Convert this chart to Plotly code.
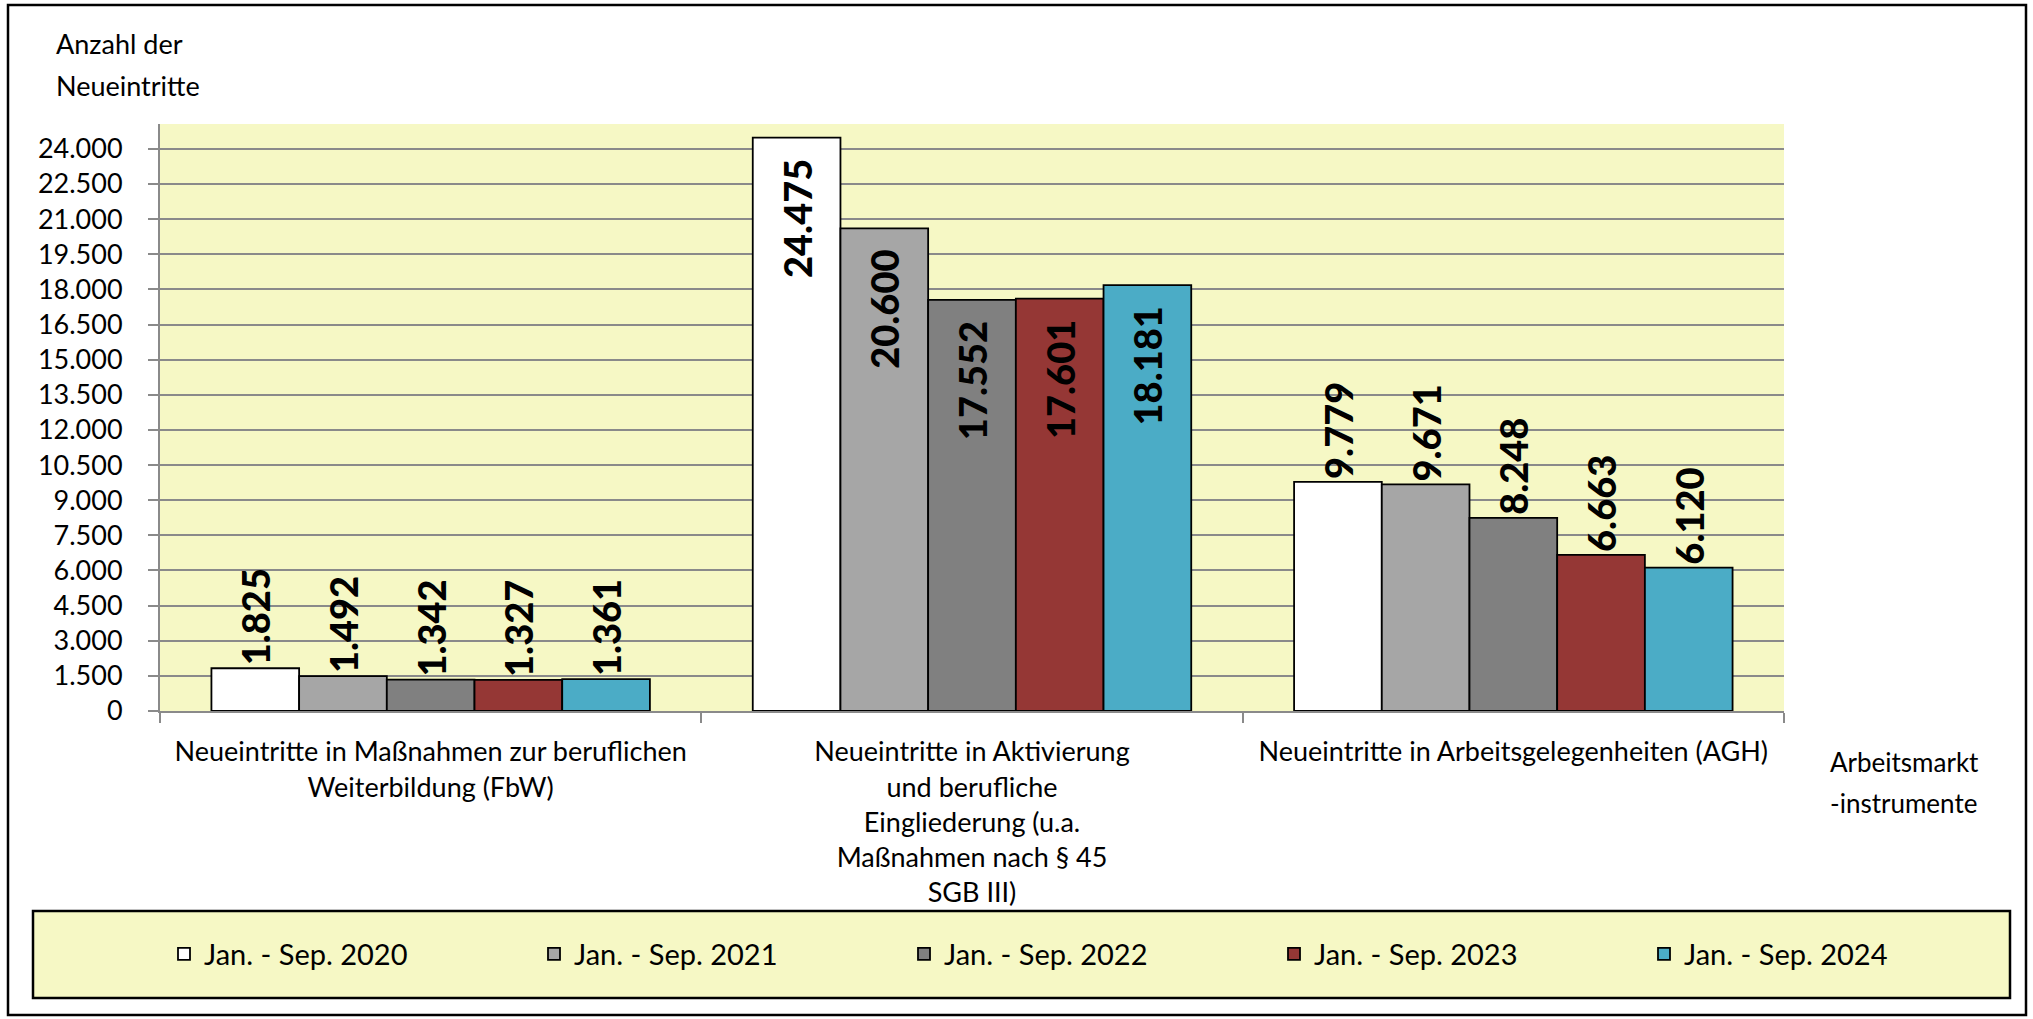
import plotly.graph_objects as go

# ---------------- data ----------------
categories = [
    "Neueintritte in Maßnahmen zur beruflichen<br>Weiterbildung (FbW)",
    "Neueintritte in Aktivierung<br>und berufliche<br>Eingliederung (u.a.<br>Maßnahmen nach § 45<br>SGB III)",
    "Neueintritte in Arbeitsgelegenheiten (AGH)",
]
series_names = ["Jan. - Sep. 2020", "Jan. - Sep. 2021", "Jan. - Sep. 2022",
                "Jan. - Sep. 2023", "Jan. - Sep. 2024"]
values_2020 = [1825, 24475, 9779]
values_2021 = [1492, 20600, 9671]
values_2022 = [1342, 17552, 8248]
values_2023 = [1327, 17601, 6663]
values_2024 = [1361, 18181, 6120]
label_positions = ["outside", "inside", "outside"]

y_title_lines = ["Anzahl der", "Neueintritte"]
x_title_lines = ["Arbeitsmarkt", "-instrumente"]

# ---------------- styles ----------------
series_values = [values_2020, values_2021, values_2022, values_2023, values_2024]
colors = ["#FFFFFF", "#A6A6A6", "#808080", "#953735", "#4BACC6"]
FONT = "Lato"
PLOT_BG = "#F6F8C5"
GRID = "#8A8A8A"
NBSP = "\u00a0"
label_templates = ["%{y:,}", "%{y:,}" + NBSP * 2, "%{y:,}"]

W_FIG, H_FIG = 2033, 1019
L, R, T, B = 160, 1784, 124, 711
PW, PH = R - L, B - T


def px(x):
    return (x - L) / PW


def py(y):
    return (B - y) / PH


fig = go.Figure()
for name, vals, col in zip(series_names, series_values, colors):
    fig.add_trace(go.Bar(
        x=categories, y=vals, name=name,
        marker=dict(color=col, line=dict(color="#000000", width=1.8)),
        texttemplate=label_templates,
        textposition=label_positions,
        textangle=-90,
        insidetextanchor="end",
        constraintext="none",
        cliponaxis=False,
        textfont=dict(family=FONT, size=38, color="#000000", weight=900),
    ))

annotations = []
for i, t in enumerate(y_title_lines):
    annotations.append(dict(text=t, x=px(54), y=py(44 + 42 * i), xref="paper", yref="paper",
                            xanchor="left", yanchor="middle", showarrow=False,
                            font=dict(family=FONT, size=27, color="#000000")))
for i, t in enumerate(x_title_lines):
    annotations.append(dict(text=t, x=px(1828), y=py(762 + 41 * i), xref="paper", yref="paper",
                            xanchor="left", yanchor="middle", showarrow=False,
                            font=dict(family=FONT, size=26, color="#000000")))

shapes = [
    # outer frame
    dict(type="rect", xref="paper", yref="paper", x0=px(8), x1=px(2026), y0=py(5), y1=py(1015),
         line=dict(color="#000000", width=2.5), fillcolor="rgba(0,0,0,0)", layer="below"),
    # legend box
    dict(type="rect", xref="paper", yref="paper", x0=px(33), x1=px(2010), y0=py(911), y1=py(998),
         line=dict(color="#000000", width=2.5), fillcolor=PLOT_BG, layer="below"),
]

fig.update_layout(
    width=W_FIG, height=H_FIG,
    margin=dict(l=L, r=W_FIG - R, t=T, b=H_FIG - B, autoexpand=False),
    paper_bgcolor="#FFFFFF",
    plot_bgcolor=PLOT_BG,
    separators=",.",
    barmode="group",
    bargap=0.19,
    bargroupgap=0,
    font=dict(family=FONT, color="#000000"),
    showlegend=True,
    legend=dict(orientation="h", x=px(2014), xanchor="right", xref="paper",
                y=py(954), yanchor="middle", yref="paper",
                bgcolor="rgba(0,0,0,0)", borderwidth=0,
                entrywidth=325, entrywidthmode="pixels",
                font=dict(family=FONT, size=29, color="#000000"),
                traceorder="normal"),
    annotations=annotations,
    shapes=shapes,
)

fig.update_yaxes(
    range=[0, 25060], dtick=1500, tick0=0, tickformat=",d",
    showgrid=True, gridcolor=GRID, gridwidth=2,
    showline=True, linecolor=GRID, linewidth=2,
    ticks="outside", ticklen=10, tickcolor=GRID, tickwidth=2,
    ticklabelstandoff=20,
    tickfont=dict(family=FONT, size=27, color="#000000"),
    zeroline=False, automargin=False,
)
fig.update_xaxes(
    showline=True, linecolor=GRID, linewidth=2,
    ticks="outside", tickson="boundaries", ticklen=10, tickcolor=GRID, tickwidth=2,
    ticklabelstandoff=16,
    tickfont=dict(family=FONT, size=27, color="#000000"),
    automargin=False,
)

fig.write_html("out.html", config={"displayModeBar": False},
               post_script="document.body.style.margin='0';")
